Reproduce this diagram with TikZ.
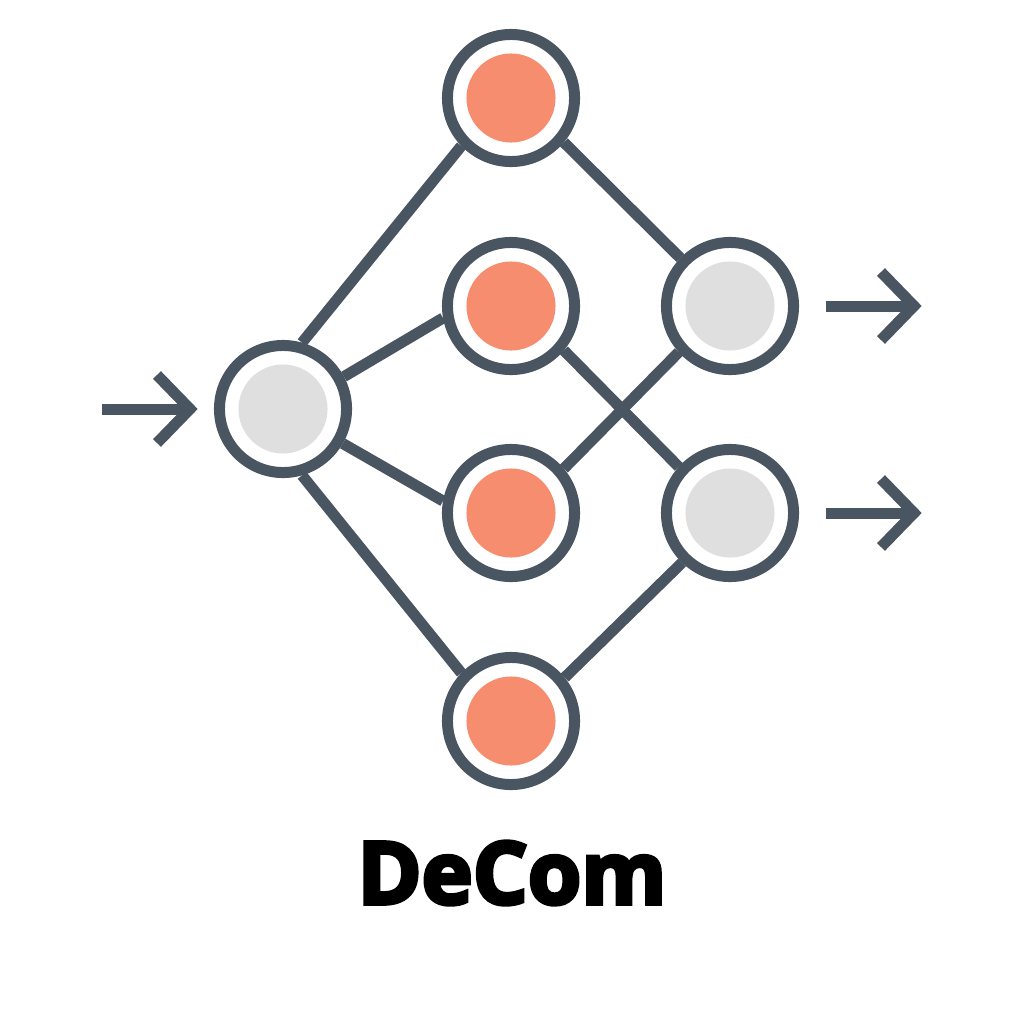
\documentclass[tikz,border=0pt]{standalone}
\usepackage{fontspec}
\setmainfont{Open Sans}
\newfontfamily\titlefont[UprightFont=*-Bold,RawFeature={embolden=4.5}]{Open Sans}
\definecolor{slate}{HTML}{4A5562}
\definecolor{coral}{HTML}{F68D6E}
\definecolor{pale}{HTML}{DFDFDF}
\tikzset{
  px/.style={x=0.01cm,y=-0.01cm},
  ring/.style={circle,draw=slate,line width=0.11cm,fill=white,minimum size=1.27cm,inner sep=0pt},
  link/.style={draw=slate,line width=0.11cm},
  chev/.style={draw=slate,line width=0.11cm,line join=miter},
  corefill/.style={circle,fill=coral,minimum size=0.89cm,inner sep=0pt},
  greyfill/.style={circle,fill=pale,minimum size=0.89cm,inner sep=0pt}
}
\begin{document}
\begin{tikzpicture}[px]
\useasboundingbox (0,0) rectangle (1024,1024);
\node[ring] (in) at (283,409) {};
\node[ring] (a) at (511,98) {};
\node[ring] (b) at (511,306) {};
\node[ring] (c) at (511,513) {};
\node[ring] (d) at (511,721) {};
\node[ring] (p) at (730,306) {};
\node[ring] (q) at (730,513) {};
\node[greyfill] (inc) at (283,409) {};
\node[corefill] (ac) at (511,98) {};
\node[corefill] (bc) at (511,306) {};
\node[corefill] (cc) at (511,513) {};
\node[corefill] (dc) at (511,721) {};
\node[greyfill] (pc) at (730,306) {};
\node[greyfill] (qc) at (730,513) {};
\draw[link] (in.74) -- (a.224);
\draw[link] (in.28.5) -- (b.190);
\draw[link] (in.-30) -- (c.170);
\draw[link] (in.-74) -- (d.136);
\draw[link] (a.-40.6) -- (p.136);
\draw[link] (b.-40) -- (q.138);
\draw[link] (c.40) -- (p.222);
\draw[link] (d.39) -- (q.226);
\coordinate (i0) at (102,409);
\coordinate (i1) at (190,409);
\coordinate (o1a) at (826,306);
\coordinate (o1b) at (914,306);
\coordinate (o2a) at (826,513);
\coordinate (o2b) at (914,513);
\draw[chev] (i0) -- (i1);
\draw[chev] (157,375) -- (i1) -- (157,443);
\draw[chev] (o1a) -- (o1b);
\draw[chev] (881,272) -- (o1b) -- (881,340);
\draw[chev] (o2a) -- (o2b);
\draw[chev] (881,479) -- (o2b) -- (881,547);
\node[text=black] (t) at (512,873) {\titlefont\fontsize{24.6}{26}\selectfont DeCom};
\end{tikzpicture}
\end{document}
